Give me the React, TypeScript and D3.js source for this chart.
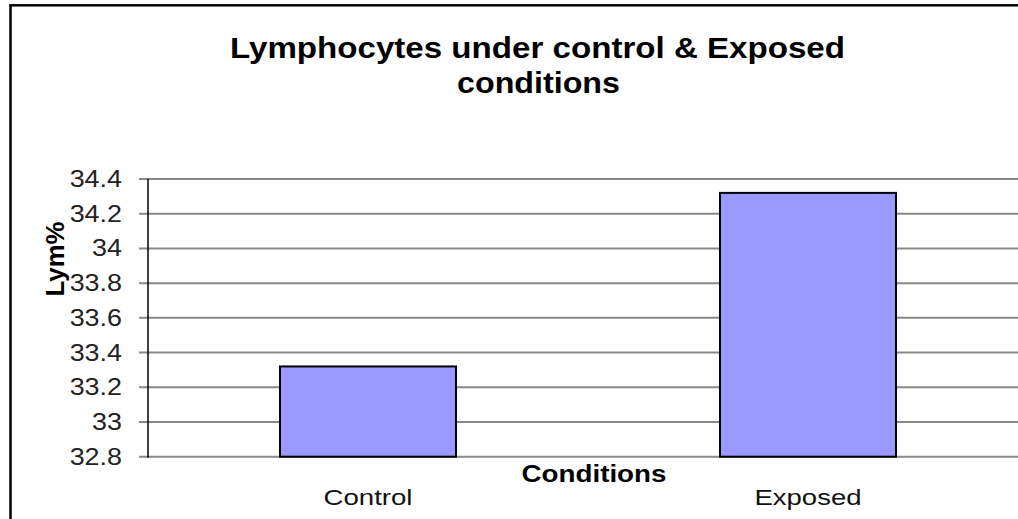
import React from "react";
import * as d3 from "d3";

const categories = ["Control", "Exposed"];
const values = [33.32, 34.32];
const yTicks = [32.8, 33, 33.2, 33.4, 33.6, 33.8, 34, 34.2, 34.4];
const titleLines = ["Lymphocytes under control & Exposed", "conditions"];
const yLabel = "Lym%";
const xLabel = "Conditions";

export default function App() {
  const W = 1018, H = 519;
  const left = 148, right = 1028, top = 179, bottom = 456.7;
  const x = d3.scaleBand<string>().domain(categories).range([left, right]).paddingInner(0).paddingOuter(0);
  const y = d3.scaleLinear().domain([32.8, 34.4]).range([bottom, top]);
  const bw = x.bandwidth() * 0.4;
  const font = "Liberation Sans, Arial, sans-serif";
  const titleWidths = [615, 163];
  const titleCenters = [537.5, 538.5];
  const titleBase = [58, 93];
  const catWidths = [89, 107];
  return (
    <svg width={W} height={H} style={{ position: "absolute", left: 0, top: 0, background: "#fff" }} fontFamily={font}>
      <rect x={10.5} y={5.3} width={1030} height={600} fill="none" stroke="#000" strokeWidth={2.5} />
      {titleLines.map((t, i) => (
        <text key={i} x={titleCenters[i] - titleWidths[i] / 2} y={titleBase[i]} textLength={titleWidths[i]} lengthAdjust="spacingAndGlyphs" fontSize={29} fontWeight="bold" fill="#000">{t}</text>
      ))}
      {yTicks.map((t) => (
        <g key={t}>
          <line x1={139} x2={W} y1={y(t)} y2={y(t)} stroke="#888" strokeWidth={2} />
          <text transform={`translate(122,${y(t) + 8}) scale(1.17,1)`} textAnchor="end" fontSize={23} fill="#222">{String(t)}</text>
        </g>
      ))}
      <line x1={left} x2={left} y1={top} y2={bottom + 1} stroke="#000" strokeWidth={1.5} />
      {categories.map((c, i) => {
        const cx = x(c)! + x.bandwidth() / 2;
        return (
          <g key={c}>
            <rect x={cx - bw / 2} y={y(values[i])} width={bw} height={bottom - y(values[i])} fill="#9999ff" stroke="#000" strokeWidth={2} />
            <text x={cx - catWidths[i] / 2} y={505} textLength={catWidths[i]} lengthAdjust="spacingAndGlyphs" fontSize={22} fill="#111">{c}</text>
          </g>
        );
      })}
      <text x={594 - 72.5} y={482} textLength={145} lengthAdjust="spacingAndGlyphs" fontSize={23} fontWeight="bold" fill="#000">{xLabel}</text>
      <text transform={`translate(64,259) rotate(-90)`} x={-37.5} textLength={75} lengthAdjust="spacingAndGlyphs" fontSize={25} fontWeight="bold" fill="#000">{yLabel}</text>
    </svg>
  );
}
